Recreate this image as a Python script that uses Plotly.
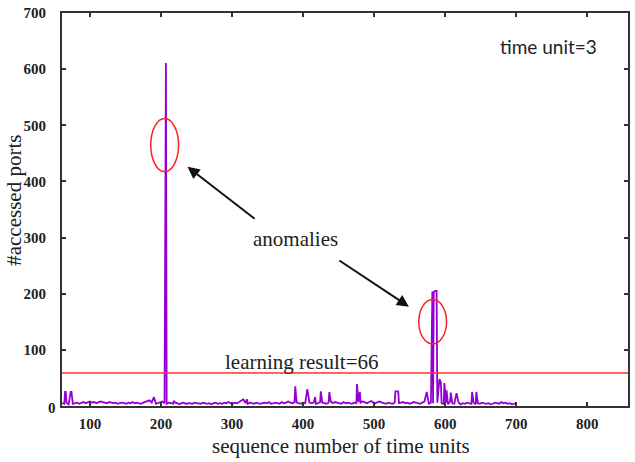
import plotly.graph_objects as go

# ---------------- data ----------------
base_start, base_step = 61, 3
base_y = [
    5, 4, 6, 3, 5, 4, 5, 6, 4, 5, 7, 5, 6, 8, 6, 7, 5, 6, 8, 7,
    6, 5, 7, 6, 5, 6, 4, 5, 6, 5, 4, 6, 5, 7, 5, 6, 5, 4, 6, 7,
    8, 10, 6, 7, 4, 5, 6, 8, 5, 4, 6, 5, 4, 6, 5, 3, 5, 6, 4, 5,
    5, 4, 6, 5, 5, 4, 6, 5, 4, 5, 3, 5, 6, 4, 5, 4, 6, 5, 7, 5,
    4, 6, 5, 7, 9, 6, 5, 4, 6, 5, 4, 6, 5, 4, 5, 6, 5, 7, 4, 5,
    6, 5, 4, 7, 5, 6, 8, 6, 5, 7, 6, 5, 4, 6, 5, 7, 6, 5, 6, 4,
    5, 7, 6, 5, 4, 6, 8, 5, 7, 6, 5, 4, 7, 5, 6, 5, 4, 6, 5, 7,
    6, 8, 6, 5, 7, 9, 6, 5, 7, 8, 6, 5, 4, 6, 5, 4, 6, 7, 5, 6,
    7, 5, 6, 4, 5, 7, 6, 5, 4, 6, 8, 5, 4, 6, 5, 8, 6, 3, 5, 4,
    6, 3, 8, 5, 4, 10, 6, 3, 5, 4, 6, 5, 4, 6, 3, 5, 4, 6, 5, 4,
    5, 3, 4, 6, 5, 4, 7, 5, 6, 4, 5, 3, 4, 5,
]
base_x = [base_start + base_step * i for i in range(len(base_y))]

spike_x = [65, 66, 73, 74, 190, 207, 218, 316, 321, 389, 406, 417, 425, 437,
           476, 480, 530, 532, 534, 574, 581, 582, 584, 586, 588,
           592, 594, 599, 602, 608, 616, 638, 644]
spike_y = [25, 25, 25, 25, 16, 611, 9, 12, 12, 35, 30, 16, 26, 25,
           39, 25, 26, 26, 26, 25, 200, 204, 203, 205, 205,
           48, 42, 41, 28, 24, 23, 25, 25]

learning_result = 59          # drawn position of the "learning result=66" line

x_ticks = [100, 200, 300, 400, 500, 600, 700, 800]
y_ticks = [100, 200, 300, 400, 500, 600, 700]

# merge baseline and spikes into one series
pts = {x: y for x, y in zip(base_x, base_y)}
for x, y in zip(spike_x, spike_y):
    pts[x] = y
xs = sorted(pts)
ys = [pts[x] for x in xs]

# ---------------- figure ----------------
W, H = 635, 462
L, R, T, B = 62, 5, 8, 56
pw, ph = W - L - R, H - T - B

def px_x(p):
    return (p - L) / pw

def px_y(p):
    return (H - B - p) / ph

fig = go.Figure()
fig.add_trace(go.Scatter(x=xs, y=ys, mode="lines",
                         line=dict(color="#9400D3", width=1.8),
                         showlegend=False, hoverinfo="skip"))

serif = "Liberation Serif"
axis_common = dict(showline=True, mirror="ticks", linecolor="#333333", linewidth=2,
                   ticks="inside", ticklen=4, tickcolor="#333333", tickwidth=1.5,
                   showgrid=False, zeroline=False,
                   tickfont=dict(family=serif, size=15, color="#222222", weight="bold"))

fig.update_xaxes(range=[60.7, 857.4], tickvals=x_ticks, ticklabelstandoff=3, **axis_common)
fig.update_yaxes(range=[0, 700], tickvals=y_ticks, ticklabelstandoff=11, **axis_common)

shapes = [
    dict(type="line", xref="paper", x0=0, x1=1, yref="y", y0=learning_result, y1=learning_result,
         line=dict(color="#ff3030", width=1.5)),
    dict(type="circle", xref="x", yref="y", x0=185.6, x1=224.8, y0=417.5, y1=512,
         line=dict(color="#ff2020", width=1.5)),
    dict(type="circle", xref="x", yref="y", x0=562.8, x1=602, y0=110.5, y1=189.5,
         line=dict(color="#ff2020", width=1.5)),
]
fig.update_layout(shapes=shapes)

def txt(xp, yp, s, size, family=serif, angle=0, weight="normal"):
    return dict(x=px_x(xp), y=px_y(yp), xref="paper", yref="paper", text=s,
                xanchor="center", yanchor="middle", textangle=angle, showarrow=False,
                font=dict(family=family, size=size, color="#222222", weight=weight))

ann = [
    dict(x=237.4, y=426, ax=334, ay=331.6, xref="x", yref="y", axref="x", ayref="y",
         showarrow=True, arrowhead=2, arrowsize=1.2, arrowwidth=2, arrowcolor="#111111", text=""),
    dict(x=549, y=177, ax=449, ay=261, xref="x", yref="y", axref="x", ayref="y",
         showarrow=True, arrowhead=2, arrowsize=1.2, arrowwidth=2, arrowcolor="#111111", text=""),
    txt(296, 237, "anomalies", 21),
    txt(303, 361, "learning result=66", 21),
    txt(550, 42, "time unit=3", 19, family="Lato"),
    txt(342, 447, "sequence number of time units", 21),
    txt(13, 198, "#accessed ports", 21, angle=-90),
    txt(52, 408, "0", 15, weight="bold"),
]
fig.update_layout(annotations=ann)

fig.update_layout(width=W, height=H, margin=dict(l=L, r=R, t=T, b=B),
                  plot_bgcolor="white", paper_bgcolor="white")

fig.write_html("out.html")
